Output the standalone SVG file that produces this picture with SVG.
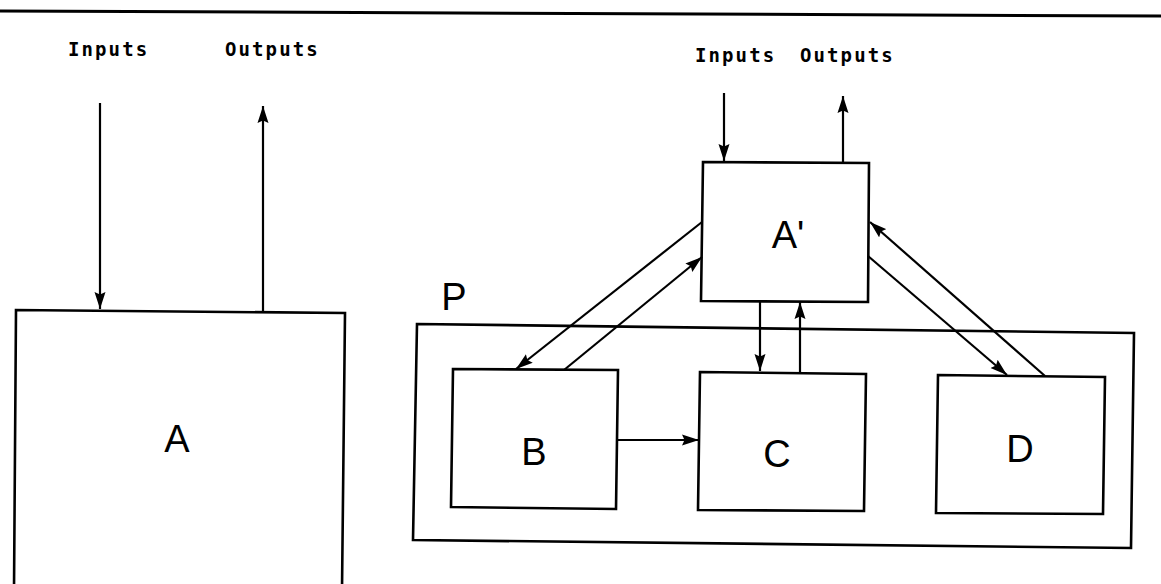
<svg xmlns="http://www.w3.org/2000/svg" width="1161" height="584" viewBox="0 0 1161 584">
<style>
.box{fill:none;stroke:#000;stroke-width:2.6;stroke-linejoin:miter}
.edge{fill:none;stroke:#000;stroke-width:2.2}
.io{font-family:"DejaVu Sans Mono","Liberation Mono",monospace;font-weight:bold;font-size:19px;letter-spacing:2.1px;fill:#000}
.big{font-family:"Liberation Sans",Arial,sans-serif;font-size:38px;fill:#000;text-anchor:middle}
</style>
<defs>
<marker id="ah" viewBox="0 0 17 12" refX="17" refY="6" markerWidth="17" markerHeight="12" markerUnits="userSpaceOnUse" orient="auto">
<path d="M0,0.5 L17,6 L0,11.5 L2.5,6 z" fill="#000"/>
</marker>
</defs>
<rect width="1161" height="584" fill="#fff"/>
<line x1="0" y1="11" x2="1161" y2="16" stroke="#000" stroke-width="3"/>

<g id="labels-left">
<text class="io" x="68" y="56">Inputs</text>
<text class="io" x="225" y="56">Outputs</text>
</g>
<g id="labels-right">
<text class="io" x="695" y="62">Inputs</text>
<text class="io" x="800" y="62">Outputs</text>
</g>

<g id="node-A">
<path class="box" d="M14,590 L16,310 L345,313 L342,590"/>
<text class="big" x="177" y="452">A</text>
</g>

<g id="node-P">
<polygon class="box" points="417,324 1134,333 1131,548 413,540"/>
<text class="big" x="454" y="310">P</text>
</g>

<g id="node-Aprime">
<polygon class="box" points="703,162 869,163 868,302 701,301"/>
<text class="big" x="788" y="248">A'</text>
</g>

<g id="node-B">
<polygon class="box" points="453,369 618,370 616,509 451,507"/>
<text class="big" x="534" y="465">B</text>
</g>

<g id="node-C">
<polygon class="box" points="700,372 866,374 864,511 698,510"/>
<text class="big" x="777" y="467">C</text>
</g>

<g id="node-D">
<polygon class="box" points="938,375 1105,377 1103,514 936,513"/>
<text class="big" x="1020" y="462">D</text>
</g>

<g id="connectors">
<line class="edge" x1="100" y1="103" x2="100" y2="309" marker-end="url(#ah)"/>
<line class="edge" x1="263" y1="312" x2="263" y2="106" marker-end="url(#ah)"/>
<line class="edge" x1="724" y1="93" x2="724" y2="161" marker-end="url(#ah)"/>
<line class="edge" x1="843" y1="162" x2="843" y2="96" marker-end="url(#ah)"/>
<line class="edge" x1="702" y1="222" x2="516" y2="369" marker-end="url(#ah)"/>
<line class="edge" x1="564" y1="370" x2="702" y2="257" marker-end="url(#ah)"/>
<line class="edge" x1="760" y1="302" x2="760" y2="371" marker-end="url(#ah)"/>
<line class="edge" x1="800" y1="373" x2="800" y2="302" marker-end="url(#ah)"/>
<line class="edge" x1="868" y1="256" x2="1007" y2="375" marker-end="url(#ah)"/>
<line class="edge" x1="1045" y1="376" x2="870" y2="222" marker-end="url(#ah)"/>
<line class="edge" x1="618" y1="440" x2="699" y2="440" marker-end="url(#ah)"/>
</g>
</svg>
